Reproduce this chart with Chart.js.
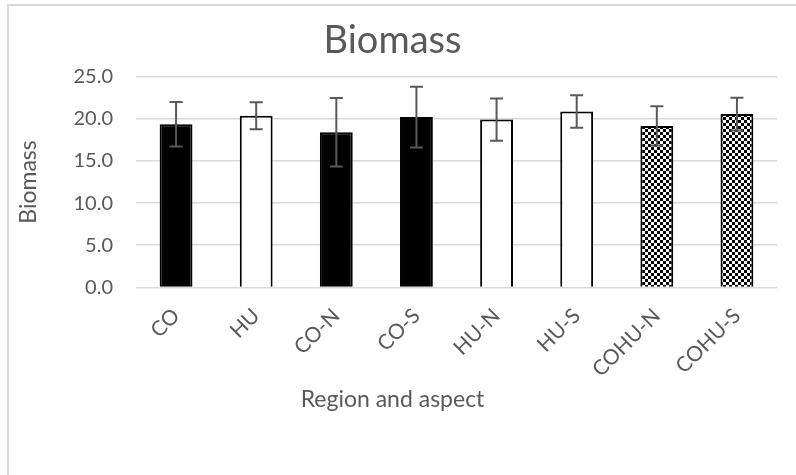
<!DOCTYPE html>
<html>
<head>
<meta charset="utf-8">
<script src="https://cdn.jsdelivr.net/npm/chart.js@4/dist/chart.umd.min.js"></script>
<style>
    html, body { margin: 0; padding: 0; background: #fff; }
    .wrap { position: relative; width: 796px; height: 475px; }
</style>
</head>
<body>
<div class="wrap"><canvas id="chart" width="796" height="475"></canvas></div>
<script>
'use strict';

// values
const CATEGORIES = ['CO', 'HU', 'CO-N', 'CO-S', 'HU-N', 'HU-S', 'COHU-N', 'COHU-S'];
const MEANS = [19.35, 20.35, 18.4, 20.2, 19.9, 20.85, 19.15, 20.55];
const ERRORS = [2.65, 1.6, 4.05, 3.6, 2.5, 1.93, 2.33, 1.95];
const FILLS = ['black', 'white', 'black', 'black', 'white', 'white', 'checker', 'checker'];
const Y_TICKS = [0, 5, 10, 15, 20, 25];

const TEXT = '#595959';
const GRID = '#d9d9d9';
const FONT = 'Lato, "Open Sans", sans-serif';

// small black/white checkerboard used by the COHU bars
function checker() {
    let $c = document.createElement('canvas');
    $c.width = 6;
    $c.height = 6;
    let ctx = $c.getContext('2d');
    ctx.fillStyle = '#fff';
    ctx.fillRect(0, 0, 6, 6);
    ctx.fillStyle = '#000';
    ctx.fillRect(0, 0, 3, 3);
    ctx.fillRect(3, 3, 3, 3);
    return document.getElementById('chart').getContext('2d').createPattern($c, 'repeat');
}

const pattern = checker();
const colors = FILLS.map(f => (f === 'checker' ? pattern : f === 'white' ? '#fff' : '#000'));

// light frame of the chart object (only left and top edges are in view)
const frame = {
    id: 'frame',
    beforeDraw(chart) {
        let ctx = chart.ctx;
        ctx.save();
        ctx.fillStyle = '#fff';
        ctx.fillRect(0, 0, chart.width, chart.height);
        ctx.strokeStyle = GRID;
        ctx.lineWidth = 2;
        ctx.beginPath();
        ctx.moveTo(8, chart.height);
        ctx.lineTo(8, 5);
        ctx.lineTo(chart.width, 5);
        ctx.stroke();
        ctx.restore();
    }
};

// symmetric error bars through the chart scales
const errorBars = {
    id: 'errorBars',
    afterDatasetsDraw(chart) {
        let ctx = chart.ctx;
        let y = chart.scales.y;
        let meta = chart.getDatasetMeta(0);
        ctx.save();
        ctx.strokeStyle = TEXT;
        ctx.lineWidth = 2;
        meta.data.forEach((bar, i) => {
            let top = y.getPixelForValue(MEANS[i] + ERRORS[i]);
            let bottom = y.getPixelForValue(MEANS[i] - ERRORS[i]);
            let x = bar.x;
            ctx.beginPath();
            ctx.moveTo(x, top);
            ctx.lineTo(x, bottom);
            ctx.moveTo(x - 6.5, top);
            ctx.lineTo(x + 6.5, top);
            ctx.moveTo(x - 6.5, bottom);
            ctx.lineTo(x + 6.5, bottom);
            ctx.stroke();
        });
        ctx.restore();
    }
};

new Chart(document.getElementById('chart'), {
    type: 'bar',
    data: {
        labels: CATEGORIES,
        datasets: [{
            data: MEANS,
            backgroundColor: colors,
            borderColor: '#000',
            borderWidth: 2,
            categoryPercentage: 1,
            barPercentage: 0.41
        }]
    },
    options: {
        responsive: false,
        animation: false,
        layout: { padding: { left: 8, right: 19, top: 4, bottom: 4 } },
        plugins: {
            legend: { display: false },
            tooltip: { enabled: false },
            title: {
                display: true,
                text: 'Biomass',
                color: TEXT,
                font: { family: FONT, size: 38, weight: 'normal' },
                padding: { top: 14, bottom: 13 }
            },
            // x axis title, centred on the whole chart like the original
            subtitle: {
                display: true,
                position: 'bottom',
                text: 'Region and aspect',
                color: TEXT,
                font: { family: FONT, size: 23, weight: 'normal' },
                padding: { top: 0, bottom: 58 }
            }
        },
        scales: {
            x: {
                grid: { display: false },
                border: { display: false },
                ticks: {
                    color: TEXT,
                    font: { family: FONT, size: 21 },
                    minRotation: 45,
                    maxRotation: 45,
                    padding: 8
                },
                afterFit(scale) {
                    scale.height = 98;
                }
            },
            y: {
                min: 0,
                max: 25,
                afterBuildTicks(scale) {
                    scale.ticks = Y_TICKS.map(v => ({ value: v }));
                },
                grid: { color: GRID, lineWidth: 1.5, drawTicks: false },
                border: { display: false },
                ticks: {
                    color: TEXT,
                    font: { family: FONT, size: 20 },
                    padding: 23,
                    callback: v => v.toFixed(1)
                },
                title: {
                    display: true,
                    text: 'Biomass',
                    color: TEXT,
                    font: { family: FONT, size: 23 },
                    padding: { top: 7, bottom: 0 }
                },
                afterFit(scale) {
                    scale.width = 128;
                }
            }
        }
    },
    plugins: [frame, errorBars]
});
</script>
</body>
</html>
